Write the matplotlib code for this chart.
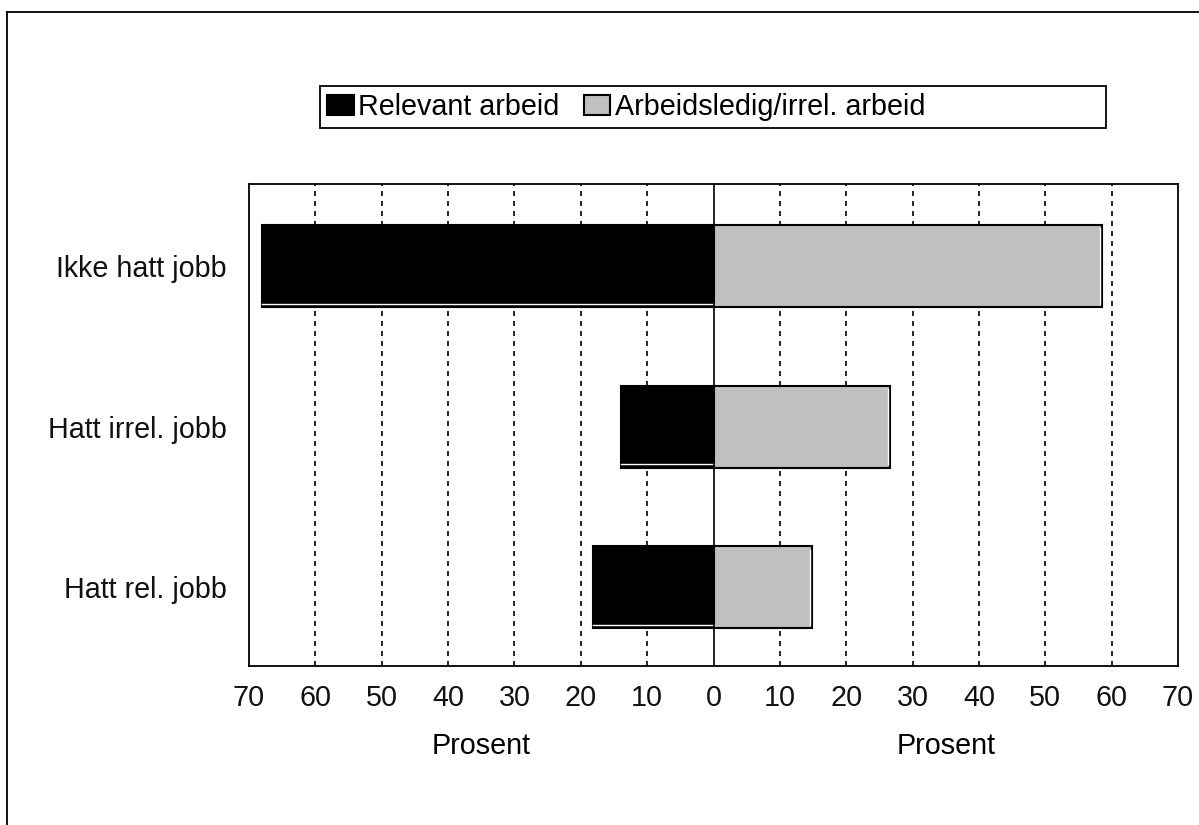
import matplotlib
matplotlib.use("Agg")
import matplotlib.pyplot as plt
from matplotlib.patches import Rectangle
from matplotlib.lines import Line2D
import matplotlib.transforms as mtransforms

plt.rcParams['font.family'] = ['Liberation Sans', 'DejaVu Sans']

categories = ["Hatt rel. jobb", "Hatt irrel. jobb", "Ikke hatt jobb"]
relevant = [18.2, 13.9, 68.1]          # drawn to the left
irrelevant = [14.9, 26.6, 58.6]        # drawn to the right
series_names = ["Relevant arbeid", "Arbeidsledig/irrel. arbeid"]
tick_values = [-70, -60, -50, -40, -30, -20, -10, 0, 10, 20, 30, 40, 50, 60, 70]
tick_labels = [str(abs(v)) for v in tick_values]
xlabel = "Prosent"

FS = 20.7
W, H = 1199, 825
fig = plt.figure(figsize=(W / 100, H / 100), dpi=100)
ax = fig.add_axes([249 / W, 1 - 666 / H, (1178 - 249) / W, (666 - 184) / H])

ypos = list(range(len(categories)))
bh = 0.51
left_vals = [-v for v in relevant]
ax.barh(ypos, left_vals, height=bh, color='black', edgecolor='black', linewidth=1.5, zorder=3)
ax.barh(ypos, irrelevant, height=bh, color='#c0c0c0', edgecolor='black', linewidth=1.5, zorder=3)

# white inner highlight lines (3D look)
for y, lv, rv in zip(ypos, left_vals, irrelevant):
    ax.plot([lv, 0], [y - bh / 2 + 0.02, y - bh / 2 + 0.02], color='white', lw=1, zorder=4)
    ax.plot([rv - 0.35, rv - 0.35], [y - bh / 2 + 0.02, y + bh / 2 - 0.02], color='white', lw=1, zorder=4)

for v in tick_values:
    if v in (-70, 70):
        continue
    if v == 0:
        ax.axvline(0, color='black', lw=1.2, zorder=5)
    else:
        ax.axvline(v, color='black', lw=1.2, linestyle=(0, (3, 3)), zorder=1)

ax.set_xlim(-70, 70)
ax.set_ylim(-0.49, len(categories) - 0.49)
ax.set_xticks(tick_values)
ax.set_xticklabels(tick_labels)
ax.set_yticks(ypos)
ax.set_yticklabels(categories)
ax.tick_params(axis='both', length=0, labelsize=FS, colors='#111111')
ax.tick_params(axis='x', pad=13)
ax.tick_params(axis='y', pad=16)
for s in ax.spines.values():
    s.set_linewidth(1.3)
    s.set_color('black')

trans = mtransforms.blended_transform_factory(ax.transData, fig.transFigure)
ax.text(-35, 1 - 746 / H, xlabel, transform=trans, ha='center', va='center', fontsize=FS)
ax.text(35, 1 - 746 / H, xlabel, transform=trans, ha='center', va='center', fontsize=FS)

# legend
handles = [Rectangle((0, 0), 1, 1, facecolor='black', edgecolor='black', linewidth=1.5),
           Rectangle((0, 0), 1, 1, facecolor='#c0c0c0', edgecolor='black', linewidth=1.5)]
fig.legend(handles, series_names, loc='center left',
           bbox_to_anchor=(324 / W, 1 - 107 / H), bbox_transform=fig.transFigure,
           ncol=2, frameon=False, fontsize=FS, handlelength=0.93, handleheight=0.7,
           handletextpad=0.15, columnspacing=0.85, borderpad=0.1, borderaxespad=0)
fig.patches.append(Rectangle((320 / W, 1 - 128 / H), (1106 - 320) / W, (128 - 86) / H,
                             transform=fig.transFigure, fill=False, edgecolor='black', linewidth=1.3))

# outer figure border
fig.lines.append(Line2D([7 / W, 7 / W], [0, 1 - 12 / H], transform=fig.transFigure, color='black', lw=1.3))
fig.lines.append(Line2D([7 / W, 1], [1 - 12 / H, 1 - 12 / H], transform=fig.transFigure, color='black', lw=1.3))

fig.savefig("out.png", dpi=100)
